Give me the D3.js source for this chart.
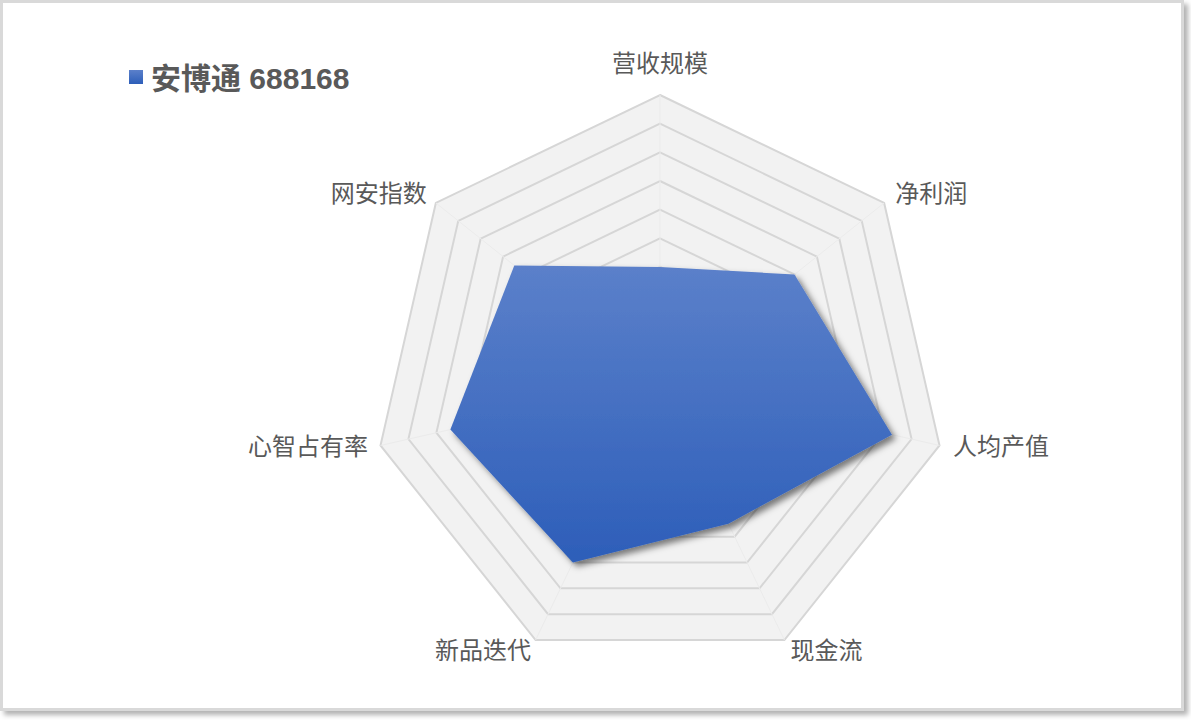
<!DOCTYPE html>
<html>
<head>
<meta charset="utf-8">
<script src="https://cdn.jsdelivr.net/npm/d3@7"></script>
<style>
  body { margin: 0; background: #fff; }
  svg { display: block; }
</style>
</head>
<body>
<div id="chart-area"></div>
<script>
// data
const indicators = ["营收规模", "净利润", "人均产值", "现金流", "新品迭代", "心智占有率", "网安指数"]
const scores = [4, 6, 8.3, 5.5, 7, 7.5, 6.5]
const seriesName = "安博通 688168"
const levels = [10, 9, 8, 7, 6, 5, 4, 3, 2, 1]

const WIDTH = 1191
const HEIGHT = 720
const CX = 660, CY = 381.7, RADIUS = 286.7

// label nudges relative to the outer vertex
const labelNudge = [[0, -31, "middle"], [11, -9, "start"], [13.5, 1.5, "start"], [6, 11, "start"],
  [-4.6, 11, "end"], [-12.5, 1.5, "end"], [-9, -9, "end"]]

const svg = d3.select("#chart-area").append("svg")
  .attr("width", WIDTH)
  .attr("height", HEIGHT)

const defs = svg.append("defs")

const frameShadow = defs.append("filter").attr("id", "frame-shadow")
  .attr("x", "-5%").attr("y", "-5%").attr("width", "110%").attr("height", "110%")
frameShadow.append("feDropShadow")
  .attr("dx", 4).attr("dy", 4).attr("stdDeviation", 2.5)
  .attr("flood-color", "#000").attr("flood-opacity", 0.3)

const polyShadow = defs.append("filter").attr("id", "poly-shadow")
  .attr("x", "-20%").attr("y", "-20%").attr("width", "140%").attr("height", "140%")
polyShadow.append("feDropShadow")
  .attr("dx", 4).attr("dy", 4).attr("stdDeviation", 3)
  .attr("flood-color", "#000").attr("flood-opacity", 0.5)

const blueGrad = defs.append("linearGradient").attr("id", "blue-grad")
  .attr("x1", 0).attr("y1", 0).attr("x2", 0).attr("y2", 1)
blueGrad.append("stop").attr("offset", "0%").attr("stop-color", "#5b80ca")
blueGrad.append("stop").attr("offset", "100%").attr("stop-color", "#2d5eb9")

// frame
svg.append("rect")
  .attr("x", 1.5).attr("y", 1.5)
  .attr("width", 1181).attr("height", 708)
  .attr("fill", "#fff")
  .attr("stroke", "#d9d9d9")
  .attr("stroke-width", 3)
  .attr("filter", "url(#frame-shadow)")

const g = svg.append("g")
  .attr("transform", `translate(${CX}, ${CY})`)

// Scales
const r = d3.scaleLinear()
  .domain([0, 10])
  .range([0, RADIUS])

const angle = d3.scalePoint()
  .domain(indicators)
  .range([0, 2 * Math.PI * (indicators.length - 1) / indicators.length])

const radarLine = d3.lineRadial()
  .angle((d, i) => angle(indicators[i]))
  .radius(d => r(d))
  .curve(d3.curveLinearClosed)

// grid rings
g.selectAll(".ring")
  .data(levels)
  .enter().append("path")
  .attr("class", "ring")
  .attr("d", lv => radarLine(indicators.map(() => lv)))
  .attr("fill", "#f2f2f2")
  .attr("stroke", "#d6d6d6")
  .attr("stroke-width", 2)
  .attr("stroke-linejoin", "miter")

// faint spokes
g.selectAll(".spoke")
  .data(indicators)
  .enter().append("line")
  .attr("class", "spoke")
  .attr("x1", 0).attr("y1", 0)
  .attr("x2", d => r(10) * Math.sin(angle(d)))
  .attr("y2", d => -r(10) * Math.cos(angle(d)))
  .attr("stroke", "#ebebeb")
  .attr("stroke-width", 1)

// series polygon
g.append("path")
  .datum(scores)
  .attr("d", radarLine)
  .attr("fill", "url(#blue-grad)")
  .attr("filter", "url(#poly-shadow)")

// axis labels
g.selectAll(".axis-label")
  .data(indicators)
  .enter().append("text")
  .attr("class", "axis-label")
  .attr("x", (d, i) => r(10) * Math.sin(angle(d)) + labelNudge[i][0])
  .attr("y", (d, i) => -r(10) * Math.cos(angle(d)) + labelNudge[i][1])
  .attr("dy", "0.35em")
  .attr("text-anchor", (d, i) => labelNudge[i][2])
  .attr("font-family", "'Noto Sans CJK SC', 'Noto Sans', sans-serif")
  .attr("font-size", "24px")
  .attr("fill", "#595959")
  .text(d => d)

// legend
const legend = svg.append("g")
  .attr("transform", "translate(129, 70)")

legend.append("rect")
  .attr("width", 14)
  .attr("height", 14)
  .attr("fill", "url(#blue-grad)")

legend.append("text")
  .attr("x", 22)
  .attr("y", 8)
  .attr("dy", "0.35em")
  .attr("font-family", "'Liberation Sans', 'Noto Sans CJK SC', sans-serif")
  .attr("font-weight", "bold")
  .attr("font-size", "30px")
  .attr("fill", "#595959")
  .text(seriesName)
</script>
</body>
</html>
